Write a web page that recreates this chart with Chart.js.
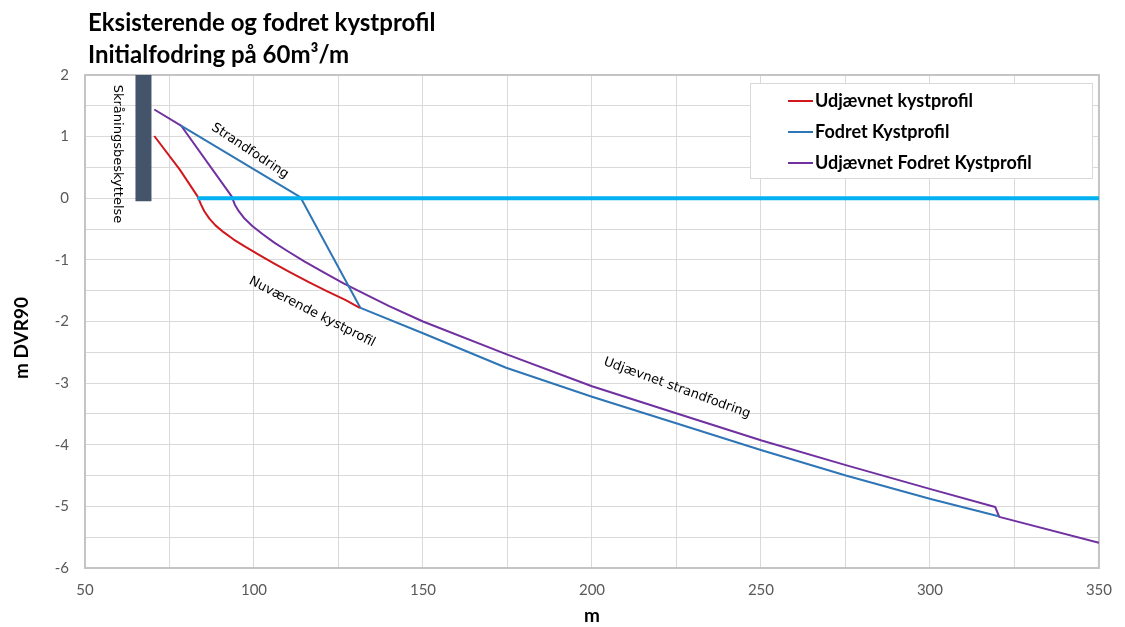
<!DOCTYPE html>
<html lang="da">
<head>
  <meta charset="UTF-8">
  <title>Eksisterende og fodret kystprofil</title>
  <script src="https://cdn.jsdelivr.net/npm/chart.js"></script>
  <style>
    html, body { margin: 0; padding: 0; background: #fff; }
    #wrap { width: 1125px; height: 627px; position: relative; }
  </style>
</head>
<body>
  <div id="wrap"><canvas id="chart" width="1125" height="627"></canvas></div>

  <script>
    // data
    const redX = [70.5, 78.1, 83.3, 84.3, 85.3, 86.8, 88.6, 91.0, 94.0, 97.5, 101.5, 106.0,
                  111.0, 116.5, 122.0, 127.0, 131.3];
    const redY = [1.01, 0.46, 0.03, -0.10, -0.21, -0.33, -0.44, -0.55, -0.67, -0.79, -0.92, -1.06,
                  -1.21, -1.37, -1.52, -1.65, -1.78];

    const blueX = [78.4, 113.7, 131.5, 150.0, 174.6, 200.0, 224.9, 250.2, 275.1, 300.2, 320.3];
    const blueY = [1.18, 0.02, -1.78, -2.19, -2.75, -3.22, -3.65, -4.09, -4.50, -4.88, -5.16];

    const purpleX = [70.5, 78.4, 93.4, 94.3, 95.5, 97.2, 99.5, 102.5, 106.0, 110.0, 115.0, 120.5,
                     126.5, 133.0, 140.0, 150.0, 174.6, 200.0, 224.9, 250.2, 275.1, 300.2,
                     319.3, 320.5, 350.0];
    const purpleY = [1.44, 1.18, 0.03, -0.10, -0.21, -0.33, -0.45, -0.58, -0.72, -0.86, -1.03, -1.20,
                     -1.38, -1.56, -1.75, -2.00, -2.53, -3.05, -3.49, -3.93, -4.33, -4.72,
                     -5.01, -5.17, -5.59];

    const waterX = [83.3, 350];
    const waterY = [0, 0];

    const wallX = [67.3, 67.3];
    const wallY = [2.1, -0.05];

    const seriesNames = ['Udjævnet kystprofil', 'Fodret Kystprofil', 'Udjævnet Fodret Kystprofil'];
    const seriesColors = ['#d0181c', '#2e75b6', '#7030a0'];

    const titleLines = ['Eksisterende og fodret kystprofil', 'Initialfodring på 60m³/m'];
    const yTitle = 'm DVR90';
    const xTitle = 'm';

    const notes = [
      { text: 'Skråningsbeskyttelse', x: 117, y: 154, angle: 90 },
      { text: 'Strandfodring', x: 250, y: 151, angle: 33.5 },
      { text: 'Nuværende kystprofil', x: 312, y: 312, angle: 27 },
      { text: 'Udjævnet strandfodring', x: 677, y: 388, angle: 20 }
    ];

    const pts = (xs, ys) => xs.map((x, i) => ({ x: x, y: ys[i] }));

    const lineDs = (label, xs, ys, color, width, join) => ({
      label: label,
      data: pts(xs, ys),
      borderColor: color,
      backgroundColor: color,
      borderWidth: width,
      borderJoinStyle: join,
      borderCapStyle: 'butt',
      showLine: true,
      pointRadius: 0,
      tension: 0
    });

    const frameAndText = {
      id: 'frameAndText',
      beforeDatasetsDraw(chart) {
        const { ctx, chartArea: a } = chart;
        ctx.save();
        ctx.strokeStyle = '#c4c4c4';
        ctx.lineWidth = 2;
        ctx.strokeRect(a.left, a.top, a.right - a.left, a.bottom - a.top);
        ctx.restore();
      },
      afterDraw(chart) {
        const { ctx } = chart;
        ctx.save();
        // title
        ctx.fillStyle = '#000';
        ctx.font = 'bold 24px Lato';
        ctx.textBaseline = 'alphabetic';
        ctx.textAlign = 'left';
        ctx.fillText(titleLines[0], 88, 31);
        ctx.fillText(titleLines[1], 88, 63);

        // y axis title
        ctx.save();
        ctx.translate(22, 338);
        ctx.rotate(-Math.PI / 2);
        ctx.font = 'bold 19px Lato';
        ctx.textAlign = 'center';
        ctx.textBaseline = 'middle';
        ctx.fillText(yTitle, 0, 0);
        ctx.restore();

        // annotations
        ctx.font = '13px "DejaVu Sans"';
        ctx.textAlign = 'center';
        ctx.textBaseline = 'middle';
        notes.forEach(n => {
          ctx.save();
          ctx.translate(n.x, n.y);
          ctx.rotate(n.angle * Math.PI / 180);
          ctx.fillText(n.text, 0, 0);
          ctx.restore();
        });

        // legend box
        const lx = 750, ly = 83, lw = 342, lh = 95;
        ctx.fillStyle = '#fff';
        ctx.fillRect(lx, ly, lw, lh);
        ctx.strokeStyle = '#d9d9d9';
        ctx.lineWidth = 1;
        ctx.strokeRect(lx + 0.5, ly + 0.5, lw, lh);
        ctx.font = 'bold 18px Lato';
        ctx.textAlign = 'left';
        ctx.textBaseline = 'middle';
        seriesNames.forEach((name, i) => {
          const yy = 101 + i * 31;
          ctx.strokeStyle = seriesColors[i];
          ctx.lineWidth = 2;
          ctx.beginPath();
          ctx.moveTo(788, yy);
          ctx.lineTo(813, yy);
          ctx.stroke();
          ctx.fillStyle = '#000';
          ctx.fillText(name, 815, yy);
        });
        ctx.restore();
      }
    };

    new Chart(document.getElementById('chart'), {
      type: 'scatter',
      data: {
        datasets: [
          lineDs('Skråningsbeskyttelse', wallX, wallY, '#44546a', 16, 'miter'),
          lineDs('Vandspejl', waterX, waterY, '#00b0f0', 4, 'miter'),
          lineDs(seriesNames[0], redX, redY, seriesColors[0], 2, 'round'),
          lineDs(seriesNames[1], blueX, blueY, seriesColors[1], 2, 'round'),
          lineDs(seriesNames[2], purpleX, purpleY, seriesColors[2], 2, 'round')
        ]
      },
      options: {
        responsive: false,
        animation: false,
        layout: { padding: { top: 75, right: 25, bottom: 0, left: 0 } },
        plugins: {
          legend: { display: false },
          title: { display: false },
          tooltip: { enabled: false }
        },
        scales: {
          x: {
            type: 'linear',
            min: 50,
            max: 350,
            afterFit: s => { s.height = 59; },
            grid: { color: '#d9d9d9', lineWidth: 1, drawTicks: false },
            border: { display: false },
            ticks: {
              stepSize: 25,
              padding: 13,
              color: '#595959',
              font: { family: 'Lato', size: 15 },
              autoSkip: false,
              maxRotation: 0,
              callback: v => (v % 50 === 0 ? v : '')
            },
            title: {
              display: true,
              text: xTitle,
              color: '#000',
              font: { family: 'Lato', size: 19, weight: 'bold' },
              padding: { top: 0, bottom: 0 }
            }
          },
          y: {
            min: -6,
            max: 2,
            afterFit: s => { s.width = 85; },
            grid: { color: '#d9d9d9', lineWidth: 1, drawTicks: false },
            border: { display: false },
            ticks: {
              stepSize: 0.5,
              padding: 16,
              color: '#595959',
              font: { family: 'Lato', size: 15 },
              autoSkip: false,
              callback: v => (Number.isInteger(v) ? v : '')
            }
          }
        }
      },
      plugins: [frameAndText]
    });
  </script>
</body>
</html>
